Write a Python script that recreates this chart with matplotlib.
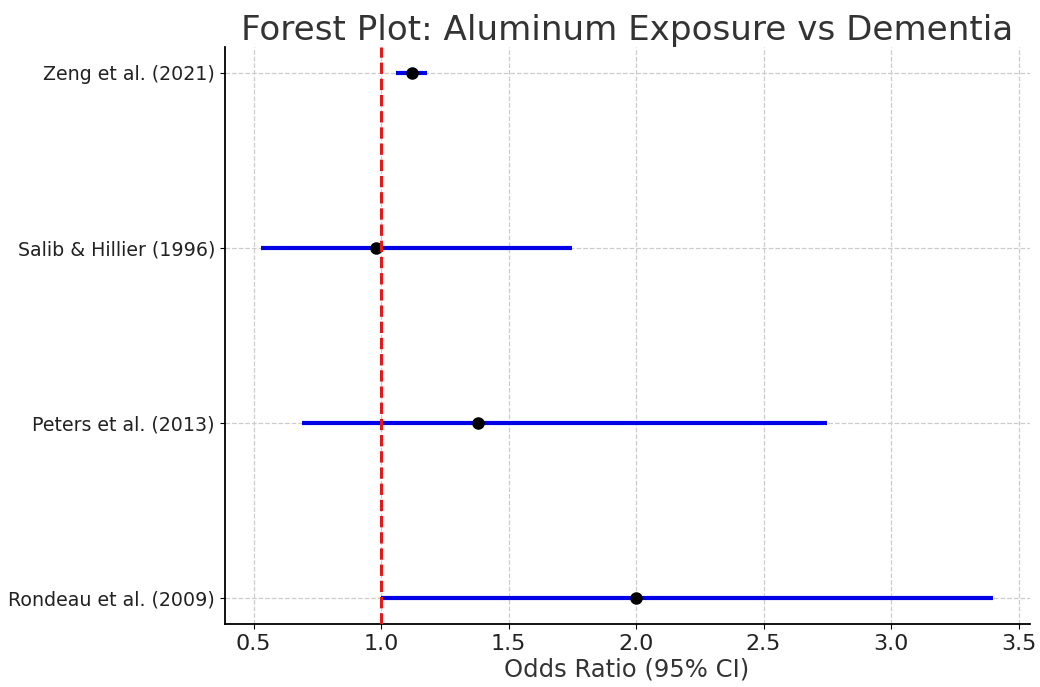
import matplotlib
matplotlib.use('Agg')
import matplotlib.pyplot as plt

studies = ['Rondeau et al. (2009)', 'Peters et al. (2013)', 'Salib & Hillier (1996)', 'Zeng et al. (2021)']
odds_ratio = [2.00, 1.38, 0.98, 1.12]
ci_low = [1.00, 0.69, 0.53, 1.06]
ci_high = [3.40, 2.75, 1.75, 1.18]

fig, ax = plt.subplots(figsize=(10.4, 6.87), dpi=100)

for i in range(len(studies)):
    ax.plot([ci_low[i], ci_high[i]], [i, i], color='#0000e6', lw=3, solid_capstyle='butt', zorder=2)
ax.plot(odds_ratio, range(len(studies)), 'o', color='black', markersize=8, zorder=3)
ax.axvline(1.0, color='#e31a1c', linestyle='--', lw=2.2, zorder=4)

ax.set_yticks(range(len(studies)))
ax.set_yticklabels(studies, fontsize=13.7, color='#222222')
ax.tick_params(axis='x', labelsize=16, labelcolor='#222222')
ax.set_xlabel('Odds Ratio (95% CI)', fontsize=17.5, color='#333333', labelpad=3)
ax.set_title('Forest Plot: Aluminum Exposure vs Dementia', fontsize=24.6, color='#333333', pad=5)
ax.grid(True, linestyle='--', color='#cccccc', lw=0.9)
ax.set_axisbelow(True)
for s in ['top', 'right']:
    ax.spines[s].set_visible(False)
ax.spines['left'].set_linewidth(1.3)
ax.spines['bottom'].set_linewidth(1.3)

plt.subplots_adjust(left=0.216, right=0.99, top=0.932, bottom=0.092)
plt.savefig('out.png')
